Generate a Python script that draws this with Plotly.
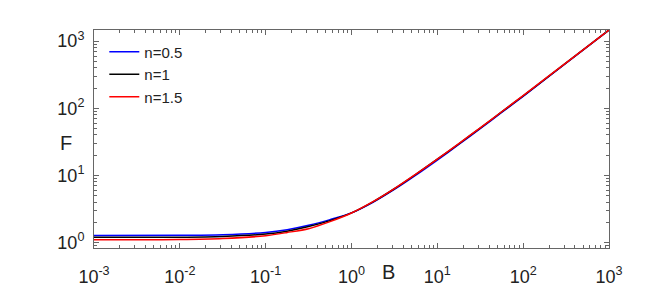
import plotly.graph_objects as go

# B values (log scale)
B = [0.001, 0.01, 0.0316, 0.1, 0.178, 0.316, 0.562, 1, 1.78, 3.16, 5.62,
     10, 17.8, 31.6, 56.2, 100, 316, 1000]

# F values for each n (log scale)
F_n05 = [1.271, 1.276, 1.303, 1.409, 1.549, 1.799, 2.188, 2.754, 3.963, 6.166, 10.07,
         16.90, 28.84, 49.66, 86.5, 150.7, 467.7, 1466]
F_n1 = [1.191, 1.199, 1.230, 1.330, 1.472, 1.722, 2.113, 2.754, 4.027, 6.310, 10.35,
        17.38, 29.50, 50.70, 88.1, 153.1, 473.0, 1466]
F_n15 = [1.094, 1.102, 1.140, 1.259, 1.406, 1.603, 2.040, 2.742, 4.046, 6.353, 10.42,
         17.50, 29.72, 51.05, 88.7, 154.2, 475.3, 1466]

x_ticks = [0.001, 0.01, 0.1, 1, 10, 100, 1000]
x_ticktext = ["10<sup>-3</sup>", "10<sup>-2</sup>", "10<sup>-1</sup>", "10<sup>0</sup>",
              "10<sup>1</sup>", "10<sup>2</sup>", "10<sup>3</sup>"]
y_ticks = [1, 10, 100, 1000]
y_ticktext = ["10<sup>0</sup>", "10<sup>1</sup>", "10<sup>2</sup>", "10<sup>3</sup>"]

series = [
    ("n=0.5", F_n05, "#0000ff"),
    ("n=1", F_n1, "#000000"),
    ("n=1.5", F_n15, "#ff0000"),
]

# minor tick positions (2..9 x each decade)
x_minor = [m * 10.0 ** k for k in range(-3, 3) for m in range(2, 10)]
y_minor = [m * 10.0 ** k for k in range(-1, 4) for m in range(2, 10)]

fig = go.Figure()
for name, vals, col in series:
    fig.add_trace(go.Scatter(
        x=B, y=vals, name=name, mode="lines",
        line=dict(color=col, width=1.5, shape="spline", smoothing=0.8),
    ))

axis_style = dict(
    type="log",
    tickmode="array",
    showgrid=False,
    zeroline=False,
    showline=True,
    linecolor="#666666",
    linewidth=1,
    mirror="ticks",
    ticks="inside",
    ticklen=5,
    tickcolor="#666666",
    tickfont=dict(family="Liberation Sans, Arial", size=18, color="#222222"),
)

fig.update_xaxes(**axis_style, range=[-3, 3], tickvals=x_ticks, ticktext=x_ticktext,
                 ticklabelstandoff=12,
                 minor=dict(ticks="inside", ticklen=3, tickcolor="#666666",
                            tickvals=x_minor, showgrid=False))
fig.update_yaxes(**axis_style, range=[-0.083, 3.166], tickvals=y_ticks, ticktext=y_ticktext,
                 ticklabelstandoff=5,
                 minor=dict(ticks="inside", ticklen=3, tickcolor="#666666",
                            tickvals=y_minor, showgrid=False))

label_font = dict(family="Liberation Sans, Arial", size=20, color="#222222")
fig.add_annotation(text="B", xref="paper", yref="paper",
                   x=(380 - 86) / 515, y=-(283 - 257.5) / 235.5,
                   xanchor="center", yanchor="middle", showarrow=False, font=label_font)
fig.add_annotation(text="F", xref="paper", yref="paper",
                   x=-(86 - 58) / 515, y=(257.5 - 144.5) / 235.5,
                   xanchor="center", yanchor="middle", showarrow=False, font=label_font)

fig.update_layout(
    width=664, height=291,
    margin=dict(l=86, r=63, t=22, b=34),
    paper_bgcolor="white",
    plot_bgcolor="white",
    showlegend=True,
    legend=dict(
        x=0.02, y=0.975, xanchor="left", yanchor="top",
        bgcolor="rgba(0,0,0,0)",
        font=dict(family="Liberation Sans, Arial", size=15, color="#222222"),
        tracegroupgap=0, itemwidth=30,
    ),
)

fig.write_html("out.html")
